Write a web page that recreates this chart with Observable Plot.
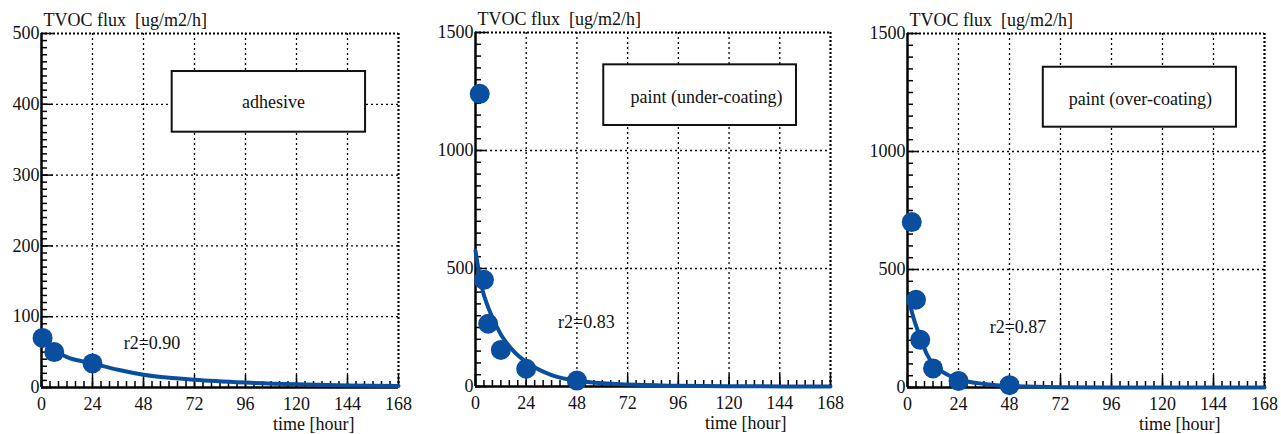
<!DOCTYPE html>
<html><head><meta charset="utf-8">
<script src="https://cdn.jsdelivr.net/npm/d3@7"></script>
<script src="https://cdn.jsdelivr.net/npm/@observablehq/plot@0.6"></script>
<style>
html,body{margin:0;padding:0;background:#fff;}
#wrap{position:relative;width:1281px;height:434px;overflow:hidden;background:#fff;}
#wrap svg{position:absolute;top:0;}
#wrap svg text{font-family:"Liberation Serif","Times New Roman",serif !important;font-size:18px !important;}
</style></head><body><div id="wrap"></div>
<script>
// ---- data ----
const materials = ["adhesive", "paint (under-coating)", "paint (over-coating)"];
const r2Labels = ["r2=0.90", "r2=0.83", "r2=0.87"];
const yMax = [500, 1500, 1500];
const xTicks = [0, 24, 48, 72, 96, 120, 144, 168];
const yTicksAdhesive = [0, 100, 200, 300, 400, 500];
const yTicksPaint = [0, 500, 1000, 1500];
const yTitle = "TVOC flux\u00a0 [ug/m2/h]";
const xTitle = "time [hour]";

const adhesiveTime = [0.5, 6, 24];
const adhesiveFlux = [70, 50, 34];
const underTime = [2, 4, 6, 12, 24, 48];
const underFlux = [1240, 452, 266, 155, 75, 25];
const overTime = [2, 4, 6, 12, 24, 48];
const overFlux = [701, 372, 202, 81, 28, 10];

const adhesiveFitTime = [0, 6, 12, 24, 36, 48, 72, 96, 120, 144, 168];
const adhesiveFitFlux = [66, 52, 43, 34, 25, 18, 11, 7, 4.5, 3, 2];
const underFitTime = [0, 3, 6, 12, 18, 24, 36, 48, 72, 96, 120, 168];
const underFitFlux = [575, 420, 335, 220, 150, 104, 48, 24, 8, 3, 1, 0];
const overFitTime = [1, 3, 6, 9, 12, 18, 24, 36, 48, 72, 96, 168];
const overFitFlux = [355, 290, 213, 143, 100, 58, 35, 15, 6, 1.5, 0.5, 0];

// ---- layout (positions/styles) ----
const blue = "#0a4f9f";
const font = "'Liberation Serif', 'Times New Roman', serif";
const layout = [
  {left: 0,   width: 427, mL: 41, mR: 29, mT: 33, mB: 47, minor: 10, ticks: yTicksAdhesive,
   box: [61.5, 152.5, 360.6, 446.3], boxText: [109.2, 403], r2: [52, 62],
   t: adhesiveTime, f: adhesiveFlux, ft: adhesiveFitTime, ff: adhesiveFitFlux},
  {left: 427, width: 427, mL: 48, mR: 24, mT: 32, mB: 48, minor: 50, ticks: yTicksPaint,
   box: [60.7, 151.9, 1106, 1363], boxText: [109.3, 1226], r2: [52.5, 272],
   t: underTime, f: underFlux, ft: underFitTime, ff: underFitFlux},
  {left: 854, width: 427, mL: 53, mR: 17, mT: 33, mB: 47, minor: 50, ticks: yTicksPaint,
   box: [63.9, 154.8, 1103, 1357], boxText: [109.6, 1222], r2: [52, 255],
   t: overTime, f: overFlux, ft: overFitTime, ff: overFitFlux}
];

const wrap = document.getElementById("wrap");
layout.forEach((L, i) => {
  const H = 434;
  const fh = H - L.mT - L.mB;
  const fw = L.width - L.mL - L.mR;
  const pts = L.t.map((t, j) => ({t, v: L.f[j]}));
  const fit = L.ft.map((t, j) => ({t, v: L.ff[j]}));
  const ym = yMax[i];
  const txt = {fill: "#111", fontFamily: font, fontSize: 18};
  const chart = Plot.plot({
    width: L.width, height: H,
    marginLeft: L.mL, marginRight: L.mR, marginTop: L.mT, marginBottom: L.mB,
    x: {domain: [0, 168]},
    y: {domain: [0, ym]},
    style: {fontFamily: font, fontSize: "18px", color: "#111", background: "transparent", overflow: "visible"},
    marks: [
      Plot.gridX(xTicks.filter(d => d > 0 && d < 168), {stroke: "#000", strokeOpacity: 1, strokeWidth: 1.3, strokeDasharray: "2,3"}),
      Plot.gridY(L.ticks.filter(d => d > 0 && d < ym), {stroke: "#000", strokeOpacity: 1, strokeWidth: 1.3, strokeDasharray: "2,3"}),
      Plot.ruleY([ym], {stroke: "#000", strokeWidth: 2.2, strokeDasharray: "2,2"}),
      Plot.ruleX([168], {stroke: "#000", strokeWidth: 2.2, strokeDasharray: "2,2"}),
      Plot.rect([L.box], {x1: d => d[0], x2: d => d[1], y1: d => d[2], y2: d => d[3], fill: "white", stroke: "#111", strokeWidth: 2}),
      Plot.tickX(d3.range(0, 169, 4), {x: d => d, stroke: "#000", strokeWidth: 1.5, insetTop: fh - 6}),
      Plot.tickX(xTicks, {x: d => d, stroke: "#000", strokeWidth: 1.5, insetTop: fh - 12}),
      Plot.tickY(d3.range(0, ym + 1, L.minor), {y: d => d, stroke: "#000", strokeWidth: 1.5, insetRight: fw - 6}),
      Plot.tickY(L.ticks, {y: d => d, stroke: "#000", strokeWidth: 1.5, insetRight: fw - 12}),
      Plot.ruleX([0], {stroke: "#000", strokeWidth: 2.5}),
      Plot.ruleY([0], {stroke: "#000", strokeWidth: 2.5}),
      Plot.line(fit, {x: "t", y: "v", stroke: blue, strokeWidth: 4, curve: "monotone-x"}),
      Plot.dot(pts, {x: "t", y: "v", r: 10, fill: blue, stroke: "none"}),
      Plot.text([r2Labels[i]], {x: L.r2[0], y: L.r2[1], text: d => d, lineAnchor: "middle", ...txt}),
      Plot.text([materials[i]], {x: L.boxText[0], y: L.boxText[1], text: d => d, lineAnchor: "middle", ...txt}),
      Plot.axisX(xTicks, {tickSize: 0, tickPadding: 10, label: null, tickFormat: d => String(d), ...txt}),
      Plot.axisY(L.ticks, {tickSize: 0, tickPadding: 2, label: null, tickFormat: d => String(d), ...txt}),
      Plot.text([yTitle], {frameAnchor: "top-left", text: d => d, textAnchor: "start", lineAnchor: "middle", dx: 2, dy: -13, ...txt}),
      Plot.text([xTitle], {frameAnchor: "bottom-right", text: d => d, textAnchor: "end", lineAnchor: "middle", dx: -44, dy: 37, ...txt})
    ]
  });
  chart.style.left = L.left + "px";
  wrap.appendChild(chart);
});
</script>
</body></html>
